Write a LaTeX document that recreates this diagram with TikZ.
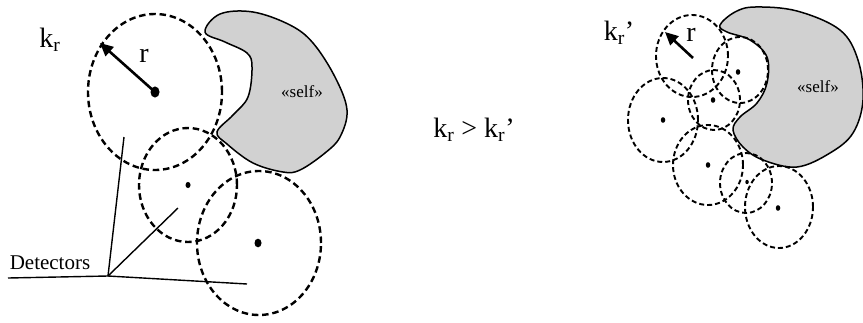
\documentclass[tikz,border=0pt]{standalone}
\usepackage{fontspec}
\setmainfont{Liberation Serif}
\usetikzlibrary{shapes.geometric,arrows.meta}
\tikzset{
  det/.style={draw, ellipse, dash pattern=on 6.5pt off 3.8pt, line width=2.4pt, inner sep=0pt},
  sdet/.style={draw, ellipse, dash pattern=on 5pt off 3pt, line width=1.9pt, inner sep=0pt},
  cdot/.style={fill, ellipse, inner sep=0pt, minimum width=#1, minimum height=1.25*#1},
  selfshape/.style={draw, line width=1.5pt, fill=black!18},
  ptr/.style={line width=1.4pt},
  radius arrow/.style={line width=2.6pt, -{Triangle[length=13pt,width=12pt]}},
  biglbl/.style={font=\fontsize{28}{30}\selectfont, inner sep=0pt},
  midlbl/.style={font=\fontsize{21}{23}\selectfont, inner sep=0pt},
  smalllbl/.style={font=\fontsize{17}{19}\selectfont, inner sep=0pt}
}
\begin{document}
\begin{tikzpicture}[x=1pt,y=-1pt]
\useasboundingbox (0,0) rectangle (863,322);
% ---------- left panel ----------
\draw[selfshape] plot[smooth cycle, tension=0.6] coordinates {
 (205,32) (220,14) (253,12) (290,25) (313,43) (335,77) (347,110) (340,137) (325,153) (300,170) (283,172)
 (253,163) (227,144) (217,132) (233,115) (248,97) (252,67) (247,53) (225,42)};
\node[smalllbl] (self1) at (302,92) {«self»};
\node[det, minimum width=134pt, minimum height=156pt] (c1) at (155,92) {};
\node[det, minimum width=98pt, minimum height=114pt] (c2) at (188,185) {};
\node[det, minimum width=124pt, minimum height=144pt] (c3) at (259,243) {};
\node[cdot=9pt] (d1) at (155,92) {};
\node[cdot=5pt] (d2) at (188,185) {};
\node[cdot=7pt] (d3) at (258,243) {};
\coordinate (t1) at (100,43);
\draw[radius arrow] (d1.center) -- (t1);
\node[biglbl] (r1) at (144,56) {r};
\node[biglbl] (k1) at (50,40) {k\textsubscript{r}};
% detectors pointer lines
\node[midlbl] (detl) at (50,263) {Detectors};
\coordinate (j) at (108,276);
\coordinate (s0) at (8,278);
\coordinate (e1) at (124,137);
\coordinate (e2) at (178,208);
\coordinate (e3) at (247,284);
\draw[ptr] (s0) -- (j);
\draw[ptr] (j) -- (e1);
\draw[ptr] (j) -- (e2);
\draw[ptr] (j) -- (e3);
% ---------- middle ----------
\node[biglbl] (cmp) at (474,130) {k\textsubscript{r} > k\textsubscript{r}’};
% ---------- right panel ----------
\draw[selfshape] plot[smooth cycle, tension=0.6] coordinates {
 (720,25) (735,12) (755,7) (797,11) (840,30) (858,60) (863,100) (853,133) (830,153) (797,167)
 (763,160) (743,147) (733,130) (740,117) (757,103) (767,83) (767,57) (750,40) (727,32)};
\node[smalllbl] (self2) at (818,87) {«self»};
\node[sdet, minimum width=72pt, minimum height=82pt] (s1) at (692,56) {};
\node[sdet, minimum width=56pt, minimum height=66pt] (s2) at (740,70) {};
\node[sdet, minimum width=52pt, minimum height=60pt] (s3) at (714,100) {};
\node[sdet, minimum width=70pt, minimum height=84pt] (s4) at (663,120) {};
\node[sdet, minimum width=70pt, minimum height=80pt] (s5) at (708,165) {};
\node[sdet, minimum width=52pt, minimum height=60pt] (s6) at (746,183) {};
\node[sdet, minimum width=68pt, minimum height=82pt] (s7) at (779,207) {};
\node[cdot=4.5pt] (e2d) at (738,72) {};
\node[cdot=4.5pt] (e3d) at (713,100) {};
\node[cdot=4.5pt] (e4d) at (663,120) {};
\node[cdot=4.5pt] (e5d) at (708,165) {};
\node[cdot=3.5pt] (e6d) at (747,182) {};
\node[cdot=4.5pt] (e7d) at (778,208) {};
\coordinate (a0) at (693,58);
\coordinate (t2) at (665,32);
\draw[radius arrow] (a0) -- (t2);
\node[biglbl] (r2) at (691,35) {r};
\node[biglbl] (k2) at (619,33) {k\textsubscript{r}’};
\end{tikzpicture}
\end{document}
